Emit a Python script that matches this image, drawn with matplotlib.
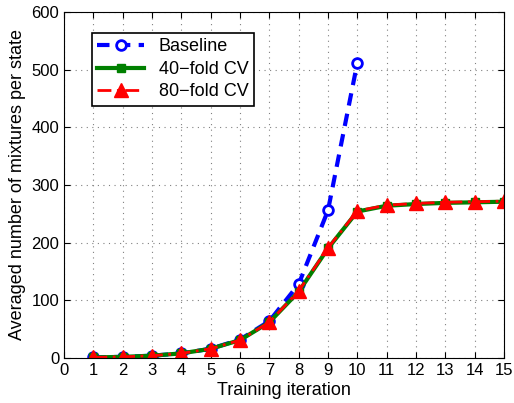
import matplotlib
matplotlib.use('Agg')
import matplotlib.pyplot as plt

plt.rcParams['font.family'] = ['Liberation Sans', 'DejaVu Sans']

# data
iter_base = [1, 2, 3, 4, 5, 6, 7, 8, 9, 10]
baseline = [1, 2, 4, 8, 16, 32, 64, 128, 256, 512]
iter_cv = [1, 2, 3, 4, 5, 6, 7, 8, 9, 10, 11, 12, 13, 14, 15]
cv40 = [1, 2, 4, 8, 16, 31, 62, 115, 190, 254, 264, 267, 269, 270, 271]
cv80 = [1, 2, 4, 8, 16, 31, 62, 116, 191, 255, 265, 268, 270, 271, 272]

fig = plt.figure(figsize=(5.14, 4.03), dpi=100)
ax = fig.add_axes([64 / 514, 45 / 403, 440 / 514, 346 / 403])

ax.plot(iter_base, baseline, color='blue', linestyle='--', linewidth=3,
        marker='o', markersize=7, markerfacecolor='white', markeredgecolor='blue',
        markeredgewidth=2, label='Baseline', dashes=(3, 2))
ax.plot(iter_cv, cv40, color='green', linestyle='-', linewidth=3,
        marker='s', markersize=6, label='40\u2212fold CV')
ax.plot(iter_cv, cv80, color='red', linestyle='-.', linewidth=2,
        marker='^', markersize=10, label='80\u2212fold CV', dashes=(5, 2, 1, 2))

ax.set_xlim(0, 15)
ax.set_ylim(0, 600)
ax.set_xticks(range(0, 16))
ax.set_yticks(range(0, 601, 100))
ax.tick_params(direction='in', labelsize=12, top=True, right=True, length=4)
ax.grid(True, linestyle=(0, (1, 4)), color='gray', linewidth=0.8)
ax.set_xlabel('Training iteration', fontsize=13, labelpad=3)
ax.set_ylabel('Averaged number of mixtures per state', fontsize=13, labelpad=4)

leg = ax.legend(loc='upper left', fontsize=13, borderaxespad=0,
                bbox_to_anchor=(92 / 514, 1 - 33 / 403),
                bbox_transform=fig.transFigure,
                fancybox=False, edgecolor='black', framealpha=1,
                handlelength=2.6, borderpad=0.3, labelspacing=0.3)
leg.get_frame().set_linewidth(1.2)

plt.savefig('out.png', dpi=100)
